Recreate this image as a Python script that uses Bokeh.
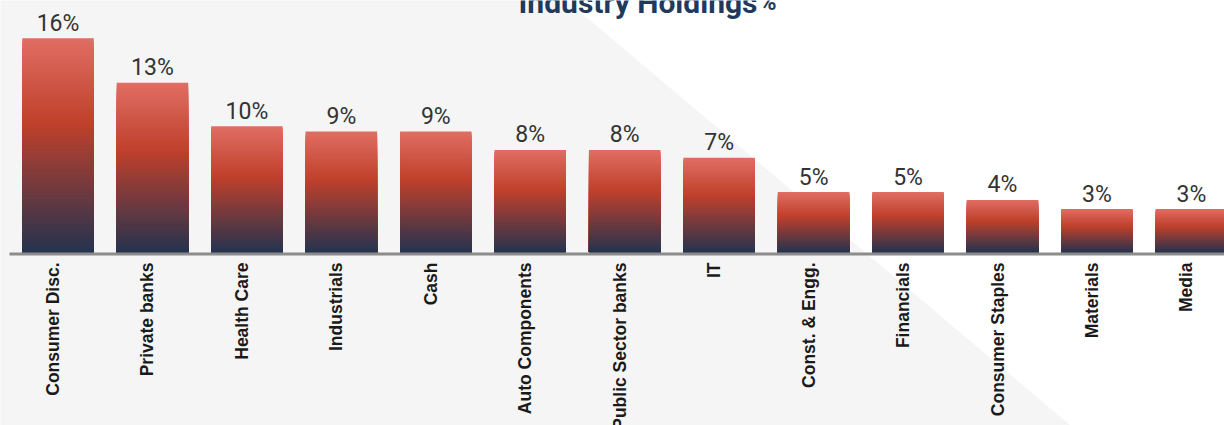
import numpy as np
from bokeh.plotting import figure
from bokeh.models import Range1d, ColumnDataSource
from bokeh.core.properties import value
from bokeh.embed import file_html
from bokeh.resources import INLINE

# ---------------- data ----------------
categories = ["Consumer Disc.", "Private banks", "Health Care", "Industrials", "Cash",
              "Auto Components", "Public Sector banks", "IT", "Const. & Engg.",
              "Financials", "Consumer Staples", "Materials", "Media"]
holdings = [16.3, 12.9, 9.6, 9.2, 9.2, 7.8, 7.8, 7.2, 4.6, 4.6, 4.0, 3.3, 3.3]
value_labels = [f"{round(v)}%" for v in holdings]
title_text = "Industry Holdings"
title_suffix = "%"

# ---------------- layout constants ----------------
W, H = 1224, 425
PXX = 94.45          # pixels per category
PXY = 13.15          # pixels per percentage point
X0 = 57.5            # pixel of first category centre
Y0 = 252             # pixel of zero line (from top)
BAR_W = 0.757

def px_x(px):  # pixel -> data x
    return (px - X0) / PXX

def px_y(py):  # pixel -> data y
    return (Y0 - py) / PXY

# gradient stops (fraction from bar top)
stops = [(0.0, (0xE0, 0x6E, 0x63)), (0.40, (0xBF, 0x40, 0x2B)), (1.0, (0x24, 0x33, 0x50))]

def grad(t):
    for (t0, c0), (t1, c1) in zip(stops[:-1], stops[1:]):
        if t <= t1:
            f = (t - t0) / (t1 - t0)
            c = [round(a + (b - a) * f) for a, b in zip(c0, c1)]
            return "#%02x%02x%02x" % tuple(c)
    return "#%02x%02x%02x" % stops[-1][1]

N = 60
xs, tops, colors = [], [], []
for i, v in enumerate(holdings):
    for k in range(N):
        xs.append(i)
        tops.append(v * (1 - k / N))
        colors.append(grad((k + 0.5) / N))
slices = ColumnDataSource(dict(x=xs, top=tops, color=colors))

p = figure(width=W, height=H, output_backend="svg", toolbar_location=None,
           x_range=Range1d(px_x(0), px_x(W)),
           y_range=Range1d(px_y(H), px_y(0)),
           x_axis_location=None, y_axis_location=None, min_border=0)
p.outline_line_color = None
p.background_fill_color = "white"
p.border_fill_color = "white"
for g in p.grid:
    g.visible = False

# background diagonal panel (decoration)
def diag(py):
    return 566 + 1.186 * py
bg_x = [px_x(-20), px_x(diag(-20)), px_x(diag(445)), px_x(-20)]
bg_y = [px_y(-20), px_y(-20), px_y(445), px_y(445)]
p.patch(bg_x, bg_y, fill_color="#f4f5f4", line_color=None)

# bars with vertical gradient
p.vbar(x="x", top="top", bottom=0, width=BAR_W, fill_color="color", line_color=None, source=slices)

# baseline
p.segment(x0=[px_x(9)], x1=[px_x(W + 10)], y0=[-1.5 / PXY], y1=[-1.5 / PXY],
          line_color="#8c8c8c", line_width=3)

# value labels
p.text(x=list(range(len(holdings))), y=[v + 15 / PXY for v in holdings], text=value_labels,
       text_font=value("Roboto"), text_font_size="23px", text_align="center",
       text_baseline="alphabetic", text_color="#333333")

# category labels
p.text(x=[i - 5 / PXX for i in range(len(categories))], y=[-10 / PXY] * len(categories),
       text=categories, angle=np.pi / 2, text_align="right", text_baseline="middle",
       text_font=value("Liberation Sans"),
       text_font_style="bold", text_font_size="17.5px", text_color="#1a1a1a")

# title
p.text(x=[px_x(757)], y=[px_y(2)], text=[title_text], text_font=value("Roboto"),
       text_font_style="bold", text_font_size="30px", text_align="right",
       text_baseline="alphabetic", text_color="#1f3a5c")
p.text(x=[px_x(759)], y=[px_y(2)], text=[title_suffix], text_font=value("Roboto"),
       text_font_style="bold", text_font_size="23px", text_align="left",
       text_baseline="alphabetic", text_color="#1f3a5c")

open("out.html", "w").write(file_html(p, INLINE))
